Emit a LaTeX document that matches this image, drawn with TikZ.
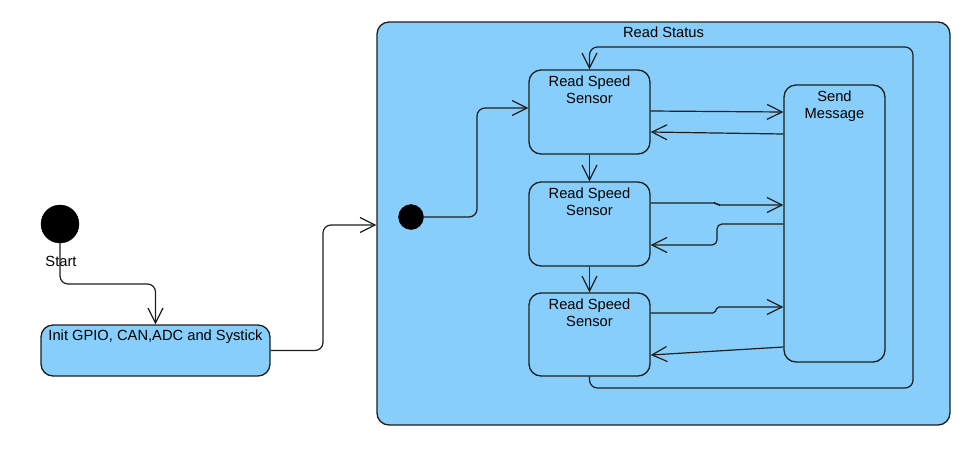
\documentclass[tikz,border=0pt]{standalone}
\usepackage{fontspec}
\setmainfont{Liberation Sans}
\usetikzlibrary{arrows.meta}
\definecolor{boxfill}{RGB}{135,206,250}
\definecolor{edge}{RGB}{30,30,30}
\tikzset{
  every node/.style={font=\fontsize{14.7}{17.7}\selectfont, text=black},
  statebox/.style={draw=edge, line width=1.3pt, fill=boxfill, rounded corners=12pt, inner sep=0pt},
  dot/.style={circle, fill=black, draw=black, inner sep=0pt},
  toplabel/.style={anchor=north, align=center, inner sep=2pt, yshift=-4pt},
  arr/.style={draw=edge, line width=1.2pt, -{Straight Barb[length=15pt,width=15pt,line width=1.2pt]}},
  conn/.style={draw=edge, line width=1.2pt}
}
\begin{document}
\begin{tikzpicture}[x=1pt,y=-1pt]
\useasboundingbox (0,0) rectangle (969,456);
% container
\node[statebox, minimum width=573pt, minimum height=403pt] (cont) at (663.5,223.5) {};
\node[toplabel, inner sep=1pt] (contlbl) at (cont.north) {Read Status};
% start
\node[dot, minimum size=38pt] (start) at (60,224) {};
\node (startlbl) at (61,261) {Start};
% init box
\node[statebox, minimum width=229pt, minimum height=51pt] (init) at (155.5,350.5) {};
\node[toplabel, inner sep=1pt] (initlbl) at (init.north) {Init GPIO, CAN,ADC and Systick};
% inner initial
\node[dot, minimum size=25pt] (init2) at (411,217) {};
% read speed boxes
\node[statebox, minimum width=121pt, minimum height=84pt] (rs1) at (589.5,112) {};
\node[toplabel] (rs1lbl) at (rs1.north) {Read Speed\\Sensor};
\node[statebox, minimum width=121pt, minimum height=84pt] (rs2) at (589.5,224) {};
\node[toplabel] (rs2lbl) at (rs2.north) {Read Speed\\Sensor};
\node[statebox, minimum width=121pt, minimum height=83pt] (rs3) at (589.5,334.5) {};
\node[toplabel] (rs3lbl) at (rs3.north) {Read Speed\\Sensor};
% send message
\node[statebox, minimum width=101pt, minimum height=277pt] (sm) at (834.5,223.5) {};
\node[toplabel] (smlbl) at (sm.north) {Send\\Message};
% connectors
\draw[arr, rounded corners=8pt] (start.south) -- (start.south |- 0,284) -- (init.north |- 0,284) -- (init.north);
\draw[arr, rounded corners=8pt] (init.east) -- (323,350.5) -- (323,225) -- (cont.west |- 0,225);
\draw[arr, rounded corners=8pt] (init2.east) -- (477,217) -- (477,108) -- (rs1.west |- 0,108);
\draw[arr] (rs1.south) -- (rs2.north);
\draw[arr] (rs2.south) -- (rs3.north);
\draw[arr] (rs1.east |- 0,111) -- (sm.west |- 0,112);
\draw[arr] (sm.west |- 0,134) -- (rs1.east |- 0,132);
\draw[arr, rounded corners=2pt] (rs2.east |- 0,203) -- (716,203) -- (718,205) -- (sm.west |- 0,205);
\draw[arr, rounded corners=5pt] (sm.west |- 0,224) -- (717,224) -- (717,245) -- (rs2.east |- 0,245);
\draw[arr, rounded corners=2pt] (rs3.east |- 0,313) -- (715,313) -- (717,307) -- (sm.west |- 0,307);
\draw[arr] (sm.west |- 0,347) -- (rs3.east |- 0,355);
\draw[arr, rounded corners=8pt] (rs3.south) -- (rs3.south |- 0,388) -- (913,388) -- (913,47) -- (rs1.north |- 0,47) -- (rs1.north);
\end{tikzpicture}
\end{document}
